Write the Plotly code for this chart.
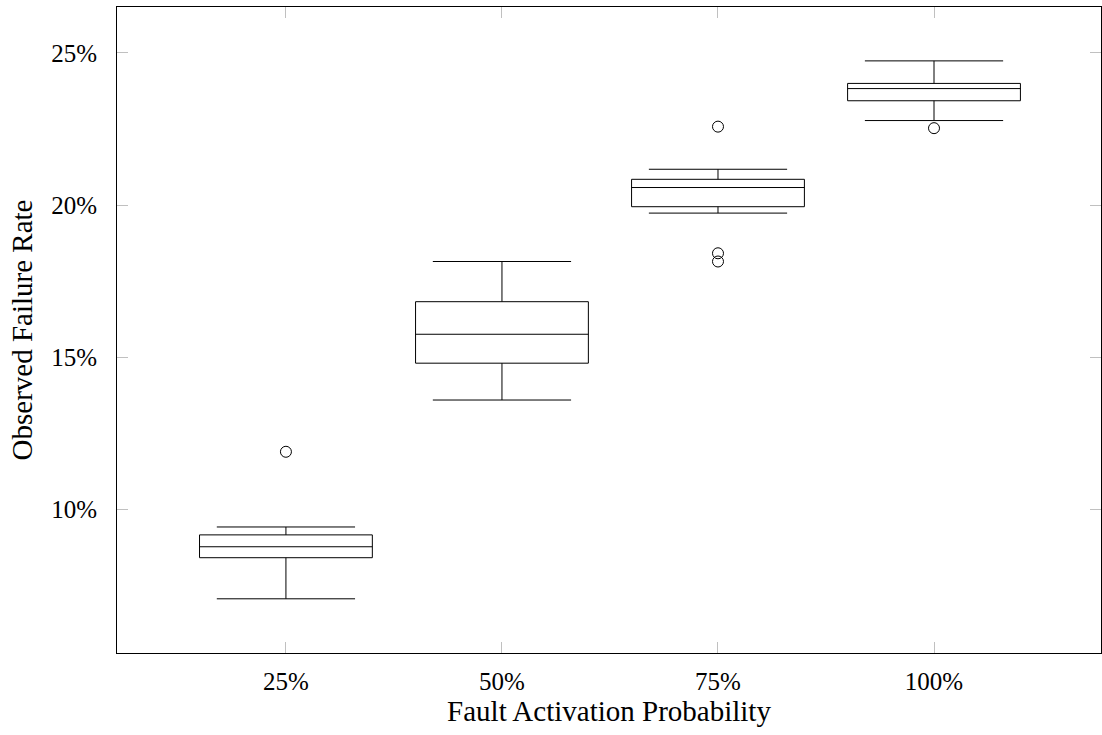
import plotly.graph_objects as go

# Data (values in percent)
categories = ["25%", "50%", "75%", "100%"]
positions = [1, 2, 3, 4]
lower_whisker = [7.07, 13.60, 19.74, 22.78]
q1_vals = [8.42, 14.81, 19.95, 23.43]
medians = [8.78, 15.76, 20.58, 23.83]
q3_vals = [9.17, 16.83, 20.85, 24.00]
upper_whisker = [9.43, 18.15, 21.18, 24.74]

outlier_x = [1, 3, 3, 3, 4]
outlier_y = [11.90, 22.58, 18.42, 18.15, 22.53]

y_ticks = [10, 15, 20, 25]
y_tick_text = ["10%", "15%", "20%", "25%"]

FONT = "Liberation Serif"

fig = go.Figure()
fig.add_trace(go.Box(
    x=positions,
    q1=q1_vals,
    median=medians,
    q3=q3_vals,
    lowerfence=lower_whisker,
    upperfence=upper_whisker,
    width=0.8,
    whiskerwidth=0.8,
    fillcolor="white",
    line=dict(color="black", width=1),
    boxpoints=False,
    showlegend=False,
    hoverinfo="skip",
))
fig.add_trace(go.Scatter(
    x=outlier_x,
    y=outlier_y,
    mode="markers",
    marker=dict(symbol="circle-open", size=11, color="black", line=dict(width=1, color="black")),
    showlegend=False,
))

fig.update_layout(
    width=1102,
    height=735,
    autosize=False,
    margin=dict(l=117, r=1, t=7, b=82, autoexpand=False),
    paper_bgcolor="white",
    plot_bgcolor="white",
    font=dict(family=FONT, size=25, color="black"),
    xaxis=dict(
        range=[0.218, 4.773],
        tickvals=positions,
        ticktext=categories,
        ticks="inside",
        ticklen=11,
        tickcolor="#c0c0c0",
        tickwidth=1,
        showline=True,
        linecolor="black",
        linewidth=1,
        mirror="ticks",
        showgrid=False,
        zeroline=False,
        ticklabelstandoff=6,
        tickfont=dict(size=25),
        title=dict(text="Fault Activation Probability", standoff=6, font=dict(size=29)),
    ),
    yaxis=dict(
        range=[5.29, 26.51],
        tickvals=y_ticks,
        ticktext=y_tick_text,
        ticks="inside",
        ticklen=11,
        tickcolor="#c0c0c0",
        tickwidth=1,
        showline=True,
        linecolor="black",
        linewidth=1,
        mirror="ticks",
        showgrid=False,
        zeroline=False,
        ticklabelstandoff=14,
        tickfont=dict(size=25),
        title=dict(text="Observed Failure Rate", standoff=10, font=dict(size=29)),
    ),
)

fig.write_html(
    "out.html",
    config={"displayModeBar": False},
    post_script="document.body.style.margin='0';document.body.style.overflow='hidden';",
)
